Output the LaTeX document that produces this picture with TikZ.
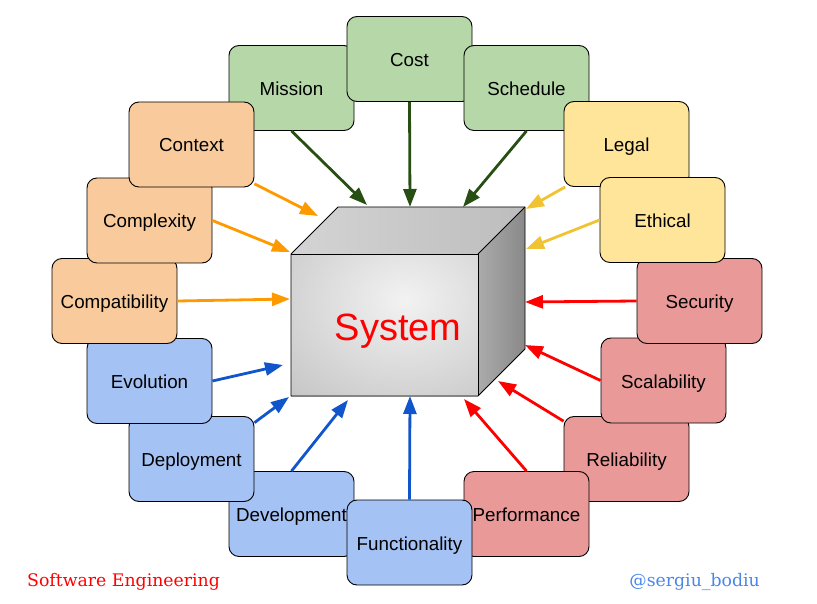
\documentclass[tikz,border=0pt]{standalone}
\usepackage{fontspec}
\setmainfont{Liberation Sans}
\newfontfamily\slabfont{DejaVu Serif}
\usetikzlibrary{arrows.meta,calc}
\definecolor{gFill}{HTML}{B6D7A8}
\definecolor{gLine}{HTML}{274E13}
\definecolor{oFill}{HTML}{F9CB9C}
\definecolor{oLine}{HTML}{FF9900}
\definecolor{yFill}{HTML}{FFE599}
\definecolor{yLine}{HTML}{F1C232}
\definecolor{rFill}{HTML}{EA9999}
\definecolor{rLine}{HTML}{FF0000}
\definecolor{bFill}{HTML}{A4C2F4}
\definecolor{bLine}{HTML}{1155CC}
\definecolor{handleBlue}{HTML}{4A86E8}
\definecolor{cubeIn}{HTML}{F2F2F2}
\definecolor{cubeOut}{HTML}{A2A2A2}
\definecolor{topL}{HTML}{D4D4D4}
\definecolor{topR}{HTML}{BDBDBD}
\definecolor{sideL}{HTML}{ABABAB}
\definecolor{sideR}{HTML}{898989}
\pgfdeclareradialshading{cubefront}{\pgfpoint{0bp}{0bp}}{color(0bp)=(cubeIn); color(50bp)=(cubeOut)}
\begin{document}
\begin{tikzpicture}[x=1pt,y=-1pt,
  box/.style={draw=black,line width=0.9pt,rounded corners=10pt,minimum width=125pt,minimum height=85pt,inner sep=0pt,text height=15pt,text depth=0pt,font=\fontsize{18.8}{22}\selectfont},
  gbox/.style={box,fill=gFill},
  obox/.style={box,fill=oFill},
  ybox/.style={box,fill=yFill},
  rbox/.style={box,fill=rFill},
  bbox/.style={box,fill=bFill},
  arr/.style={line width=2.8pt,-{Triangle[length=18pt,width=13pt]}},
  garr/.style={arr,draw=gLine,fill=gLine},
  oarr/.style={arr,draw=oLine,fill=oLine},
  yarr/.style={arr,draw=yLine,fill=yLine},
  rarr/.style={arr,draw=rLine,fill=rLine},
  barr/.style={arr,draw=bLine,fill=bLine},
  edge/.style={draw=black,line width=0.9pt,line join=round}]
\path[use as bounding box] (0,0) rectangle (817,604);

% cube
\coordinate (fA) at (291,254);
\coordinate (fB) at (478,254);
\coordinate (fC) at (478,396);
\coordinate (fD) at (291,396);
\coordinate (bA) at (338,207);
\coordinate (bB) at (525,207);
\coordinate (bC) at (525,349);
\begin{scope}
  \clip (fA) rectangle (fC);
  \shade[shading=cubefront] (255,180) rectangle (555,420);
\end{scope}
\shade[left color=topL,right color=topR] (fA) -- (bA) -- (bB) -- (fB) -- cycle;
\shade[left color=sideL,right color=sideR] (fB) -- (bB) -- (bC) -- (fC) -- cycle;
\draw[edge] (fA) -- (bA) -- (bB) -- (bC) -- (fC) -- (fD) -- cycle;
\draw[edge] (fA) -- (fB) -- (fC);
\draw[edge] (fB) -- (bB);
\node[text=red,font=\fontsize{38}{40}\selectfont,anchor=base,inner sep=0pt] (sys) at (398,340) {System};

% boxes (back to front)
\node[rbox] (reli) at (626.5,459) {Reliability};
\node[rbox] (scal) at (663.5,380.5) {Scalability};
\node[rbox] (secu) at (699.5,301) {Security};
\node[gbox] (miss) at (291.5,88) {Mission};
\node[gbox] (cost) at (409.5,59) {Cost};
\node[gbox] (sched) at (526.5,88) {Schedule};
\node[ybox] (legal) at (626.5,144) {Legal};
\node[ybox] (ethic) at (662.5,220) {Ethical};
\node[rbox] (perf) at (526.5,514) {Performance};
\node[bbox] (devel) at (291.5,514) {Development};
\node[bbox] (func) at (409.5,542.5) {Functionality};
\node[bbox] (deploy) at (191.5,459) {Deployment};
\node[bbox] (evol) at (149.5,381) {Evolution};
\node[obox] (compat) at (114.5,301) {Compatibility};
\node[obox] (cplx) at (149.5,220.5) {Complexity};
\node[obox] (ctx) at (191.5,144.5) {Context};

% arrow tips
\coordinate (tMiss) at (367,205);
\coordinate (tCost) at (410,207);
\coordinate (tSched) at (463,207);
\coordinate (tCtx) at (318,216);
\coordinate (tCplx) at (290,252);
\coordinate (tCompat) at (290,299);
\coordinate (tEvol) at (283,365);
\coordinate (tDeploy) at (289,397);
\coordinate (tDevel) at (348,400);
\coordinate (tFunc) at (410,396);
\coordinate (tPerf) at (464,399);
\coordinate (tReli) at (498,381);
\coordinate (tScal) at (525,345);
\coordinate (tSecu) at (525,302);
\coordinate (tEthic) at (526,249);
\coordinate (tLegal) at (526,209);

\draw[garr] (miss.south) -- (tMiss);
\draw[garr] (cost.south) -- (tCost);
\draw[garr] (sched.south) -- (tSched);
\draw[oarr] (ctx.-32) -- (tCtx);
\draw[oarr] (cplx.east) -- (tCplx);
\draw[oarr] (compat.east) -- (tCompat);
\draw[barr] (evol.east) -- (tEvol);
\draw[barr] (deploy.30) -- (tDeploy);
\draw[barr] (devel.north) -- (tDevel);
\draw[barr] (func.north) -- (tFunc);
\draw[rarr] (perf.north) -- (tPerf);
\draw[rarr] (reli.149) -- (tReli);
\draw[rarr] (scal.west) -- (tScal);
\draw[rarr] (secu.west) -- (tSecu);
\draw[yarr] (ethic.west) -- (tEthic);
\draw[yarr] (legal.215) -- (tLegal);

% footer texts
\node[anchor=base west,inner sep=0pt,text=red,font=\slabfont\fontsize{17.3}{20}\selectfont] (se) at (27,586) {Software Engineering};
\node[anchor=base east,inner sep=0pt,text=handleBlue,font=\slabfont\fontsize{17.3}{20}\selectfont] (handle) at (760,586) {@sergiu\_bodiu};
\end{tikzpicture}
\end{document}
